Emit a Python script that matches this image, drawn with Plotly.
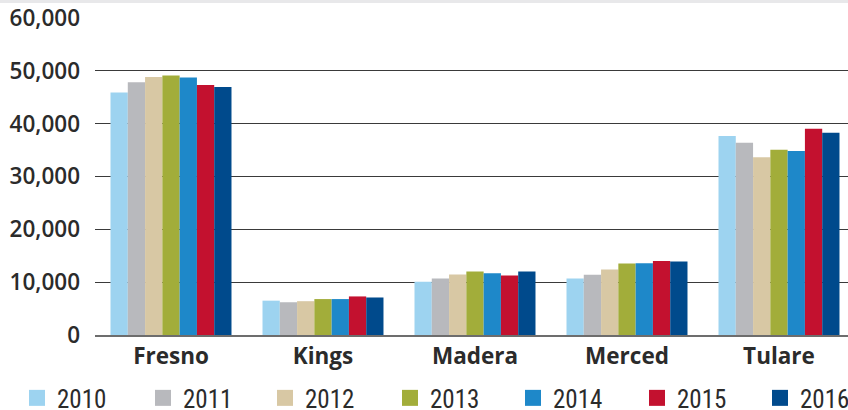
import plotly.graph_objects as go

counties = ["Fresno", "Kings", "Madera", "Merced", "Tulare"]
years = ["2010", "2011", "2012", "2013", "2014", "2015", "2016"]
values = {
    "2010": [45900, 6500, 10100, 10700, 37650],
    "2011": [47850, 6200, 10700, 11400, 36400],
    "2012": [48850, 6400, 11450, 12400, 33650],
    "2013": [49100, 6800, 12000, 13550, 35050],
    "2014": [48750, 6800, 11700, 13600, 34850],
    "2015": [47300, 7300, 11250, 14000, 39050],
    "2016": [46950, 7100, 12000, 13900, 38300],
}
colors = {
    "2010": "#9dd3f0",
    "2011": "#b8b9bd",
    "2012": "#d8c8a4",
    "2013": "#a2ad3a",
    "2014": "#1e88c9",
    "2015": "#c3112f",
    "2016": "#004a8c",
}
y_ticks = [0, 10000, 20000, 30000, 40000, 50000, 60000]
y_labels = ["0", "10,000", "20,000", "30,000", "40,000", "50,000", "60,000"]

# left edge (px) of each legend entry
legend_x = [17, 143, 265, 390, 513, 637, 760]

LEG_FONT = dict(family="Liberation Sans Narrow, Roboto Condensed, Open Sans", size=25, color="#2b2b2b")

fig = go.Figure()
for yr in years:
    fig.add_trace(go.Bar(
        x=counties, y=values[yr], name=yr, showlegend=False, legendgroup=yr,
        marker=dict(color=colors[yr], line=dict(width=0)),
    ))

legends = {}
for i, yr in enumerate(years):
    key = "legend" if i == 0 else f"legend{i + 1}"
    fig.add_trace(go.Scatter(
        x=[None], y=[None], mode="markers", name=yr, legendgroup=yr,
        marker=dict(symbol="square", size=16, color=colors[yr], line=dict(width=0)),
        legend=key,
    ))
    legends[key] = dict(
        orientation="h", xref="container", yref="container",
        x=legend_x[i] / 848, y=0.029, xanchor="left", yanchor="middle",
        font=LEG_FONT, itemsizing="trace", bgcolor="rgba(0,0,0,0)",
    )

fig.update_layout(
    width=848, height=410,
    margin=dict(l=95, r=0, t=18, b=75, autoexpand=False),
    paper_bgcolor="white", plot_bgcolor="white",
    barmode="group", bargap=0.204, bargroupgap=0,
    font=dict(family="Open Sans", color="#2b2b2b"),
    showlegend=True,
    xaxis=dict(
        range=[-0.5, 4.454], showgrid=False, zeroline=False,
        showline=True, linecolor="#6d6d6d", linewidth=2,
        tickfont=dict(family="Open Sans", size=22.5, weight=700, color="#2b2b2b"),
        ticks="", automargin=False,
    ),
    yaxis=dict(
        range=[0, 60000], tickvals=y_ticks, ticktext=y_labels,
        showgrid=True, gridcolor="#3a3a3a", gridwidth=1,
        zeroline=False, showline=False,
        tickfont=dict(family="Open Sans", size=22.5, weight=600, color="#2b2b2b"),
        ticklabelstandoff=14, automargin=False,
    ),
    shapes=[dict(
        type="rect", xref="paper", yref="paper",
        x0=-1, x1=1.01, y0=1 + 15 / 317, y1=1 + 18 / 317,
        fillcolor="#e8e8ea", line=dict(width=0), layer="below",
    )],
    **legends,
)

fig.write_html("out.html", config={"displayModeBar": False},
               post_script="document.body.style.margin='0';")
